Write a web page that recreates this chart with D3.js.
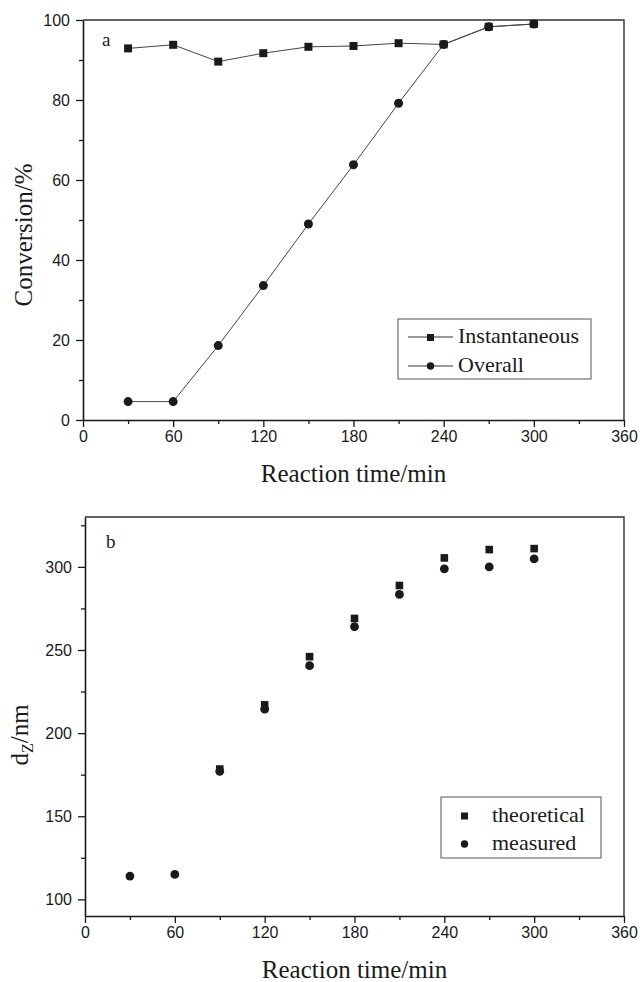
<!DOCTYPE html>
<html>
<head>
<meta charset="utf-8">
<script src="https://cdn.jsdelivr.net/npm/d3@7"></script>
<style>
  body { margin: 0; background: #fff; }
  .lab { font-family: "Liberation Serif", "Times New Roman", serif; fill: #1a1a1a; }
</style>
</head>
<body>
<svg id="chart" width="640" height="982"></svg>
<script>
// reaction time (min)
let timeA = [30, 60, 90, 120, 150, 180, 210, 240, 270, 300];
let instantaneous = [92.9, 93.8, 89.6, 91.7, 93.3, 93.5, 94.2, 93.9, 98.3, 99.0];
let overall = [4.6, 4.6, 18.6, 33.6, 49.0, 63.8, 79.2, 93.9, 98.3, 99.0];

let timeTheo = [90, 120, 150, 180, 210, 240, 270, 300];
let theoretical = [178.4, 217.0, 246.0, 269.0, 288.8, 305.4, 310.4, 311.0];
let timeMeas = [30, 60, 90, 120, 150, 180, 210, 240, 270, 300];
let measured = [114.0, 115.0, 177.0, 214.4, 240.6, 264.0, 283.4, 298.8, 300.0, 304.8];

let xTicks = [0, 60, 120, 180, 240, 300, 360];
let xMinor = [30, 90, 150, 210, 270, 330];
let yTicksA = [0, 20, 40, 60, 80, 100];
let yMinorA = [10, 30, 50, 70, 90];
let yTicksB = [100, 150, 200, 250, 300];
let yMinorB = [125, 175, 225, 275, 325];

let svg = d3.select("#chart");

function styleAxis(a) {
  a.select(".domain").attr("stroke", "#1a1a1a").attr("stroke-width", 1.6);
  a.selectAll(".tick line").attr("stroke", "#1a1a1a").attr("stroke-width", 1.3);
  a.selectAll(".tick text")
    .attr("font-family", "'Liberation Sans', Arial, sans-serif")
    .attr("font-size", 16).attr("fill", "#1a1a1a");
}

function makePanel(opt) {
  let g = svg.append("g").attr("transform", "translate(" + opt.left + "," + opt.top + ")");
  let x = d3.scaleLinear().domain([0, 360]).range([0, opt.width]);
  let y = d3.scaleLinear().domain(opt.yDomain).range([opt.height, 0]);

  // minor ticks first
  g.append("g")
    .attr("transform", "translate(0," + opt.height + ")")
    .call(d3.axisBottom(x).tickValues(xMinor).tickSize(4).tickFormat(""))
    .call(styleAxis)
    .call(a => a.select(".domain").remove());
  g.append("g")
    .call(d3.axisLeft(y).tickValues(opt.yMinor).tickSize(4).tickFormat(""))
    .call(styleAxis)
    .call(a => a.select(".domain").remove());

  g.append("g")
    .attr("transform", "translate(0," + opt.height + ")")
    .call(d3.axisBottom(x).tickValues(xTicks).tickSize(7).tickSizeOuter(0).tickPadding(4))
    .call(styleAxis);
  g.append("g")
    .call(d3.axisLeft(y).tickValues(opt.yTicks).tickSize(7).tickSizeOuter(0).tickPadding(6))
    .call(styleAxis);

  // top and right frame
  g.append("path")
    .attr("d", "M0,0H" + opt.width + "V" + opt.height)
    .attr("fill", "none").attr("stroke", "#333").attr("stroke-width", 1.4);

  // x axis title
  g.append("text").attr("class", "lab")
    .attr("x", opt.width / 2).attr("y", opt.height + 62)
    .attr("text-anchor", "middle").attr("font-size", 25)
    .text("Reaction time/min");

  return {g: g, x: x, y: y};
}

// ---- panel a ----
let pa = makePanel({left: 83, top: 20, width: 541, height: 400, yDomain: [0, 100],
                    yTicks: yTicksA, yMinor: yMinorA});

pa.g.append("text").attr("class", "lab")
  .attr("transform", "translate(-51," + 215 + ") rotate(-90)")
  .attr("text-anchor", "middle").attr("font-size", 25)
  .text("Conversion/%");

let lineA = d3.line().x(d => pa.x(d[0])).y(d => pa.y(d[1]));
let ovData = d3.zip(timeA, overall);
let inData = d3.zip(timeA, instantaneous);

pa.g.append("path").datum(ovData).attr("d", lineA)
  .attr("fill", "none").attr("stroke", "#444").attr("stroke-width", 1);
pa.g.append("path").datum(inData).attr("d", lineA)
  .attr("fill", "none").attr("stroke", "#444").attr("stroke-width", 1);

pa.g.selectAll(".ov").data(ovData).enter().append("circle")
  .attr("cx", d => pa.x(d[0])).attr("cy", d => pa.y(d[1]))
  .attr("r", 4.5).attr("fill", "#1a1a1a");
pa.g.selectAll(".in").data(inData).enter().append("rect")
  .attr("x", d => pa.x(d[0]) - 4).attr("y", d => pa.y(d[1]) - 4)
  .attr("width", 8).attr("height", 8).attr("fill", "#1a1a1a");

pa.g.append("text").attr("class", "lab")
  .attr("x", 19).attr("y", 26).attr("font-size", 19).text("a");

// legend a
let la = pa.g.append("g").attr("transform", "translate(315,299)");
la.append("rect").attr("width", 193).attr("height", 60)
  .attr("fill", "#fff").attr("stroke", "#555").attr("stroke-width", 1);
la.append("line").attr("x1", 10).attr("x2", 55).attr("y1", 18).attr("y2", 18).attr("stroke", "#333");
la.append("rect").attr("x", 29).attr("y", 15).attr("width", 7).attr("height", 7).attr("fill", "#1a1a1a");
la.append("text").attr("class", "lab").attr("x", 60).attr("y", 24).attr("font-size", 22).text("Instantaneous");
la.append("line").attr("x1", 10).attr("x2", 55).attr("y1", 47).attr("y2", 47).attr("stroke", "#333");
la.append("circle").attr("cx", 32.5).attr("cy", 47).attr("r", 3.7).attr("fill", "#1a1a1a");
la.append("text").attr("class", "lab").attr("x", 60).attr("y", 53).attr("font-size", 22).text("Overall");

// ---- panel b ----
let pb = makePanel({left: 85, top: 517, width: 539, height: 399, yDomain: [90, 330],
                    yTicks: yTicksB, yMinor: yMinorB});

let yl = pb.g.append("text").attr("class", "lab")
  .attr("transform", "translate(-57," + 218 + ") rotate(-90)")
  .attr("text-anchor", "middle").attr("font-size", 25);
yl.append("tspan").text("d");
yl.append("tspan").attr("font-size", 16).attr("dy", 5).text("Z");
yl.append("tspan").attr("dy", -5).text("/nm");

pb.g.selectAll(".th").data(d3.zip(timeTheo, theoretical)).enter().append("rect")
  .attr("x", d => pb.x(d[0]) - 3.8).attr("y", d => pb.y(d[1]) - 3.8)
  .attr("width", 7.6).attr("height", 7.6).attr("fill", "#1a1a1a");
pb.g.selectAll(".me").data(d3.zip(timeMeas, measured)).enter().append("circle")
  .attr("cx", d => pb.x(d[0])).attr("cy", d => pb.y(d[1]))
  .attr("r", 4.4).attr("fill", "#1a1a1a");

pb.g.append("text").attr("class", "lab")
  .attr("x", 21).attr("y", 31).attr("font-size", 19).text("b");

// legend b
let lb = pb.g.append("g").attr("transform", "translate(356,280)");
lb.append("rect").attr("width", 160).attr("height", 61)
  .attr("fill", "#fff").attr("stroke", "#555").attr("stroke-width", 1);
lb.append("rect").attr("x", 20).attr("y", 15.5).attr("width", 7).attr("height", 7).attr("fill", "#1a1a1a");
lb.append("text").attr("class", "lab").attr("x", 51).attr("y", 25).attr("font-size", 22).text("theoretical");
lb.append("circle").attr("cx", 23.5).attr("cy", 47).attr("r", 3.7).attr("fill", "#1a1a1a");
lb.append("text").attr("class", "lab").attr("x", 51).attr("y", 53).attr("font-size", 22).text("measured");
</script>
</body>
</html>
